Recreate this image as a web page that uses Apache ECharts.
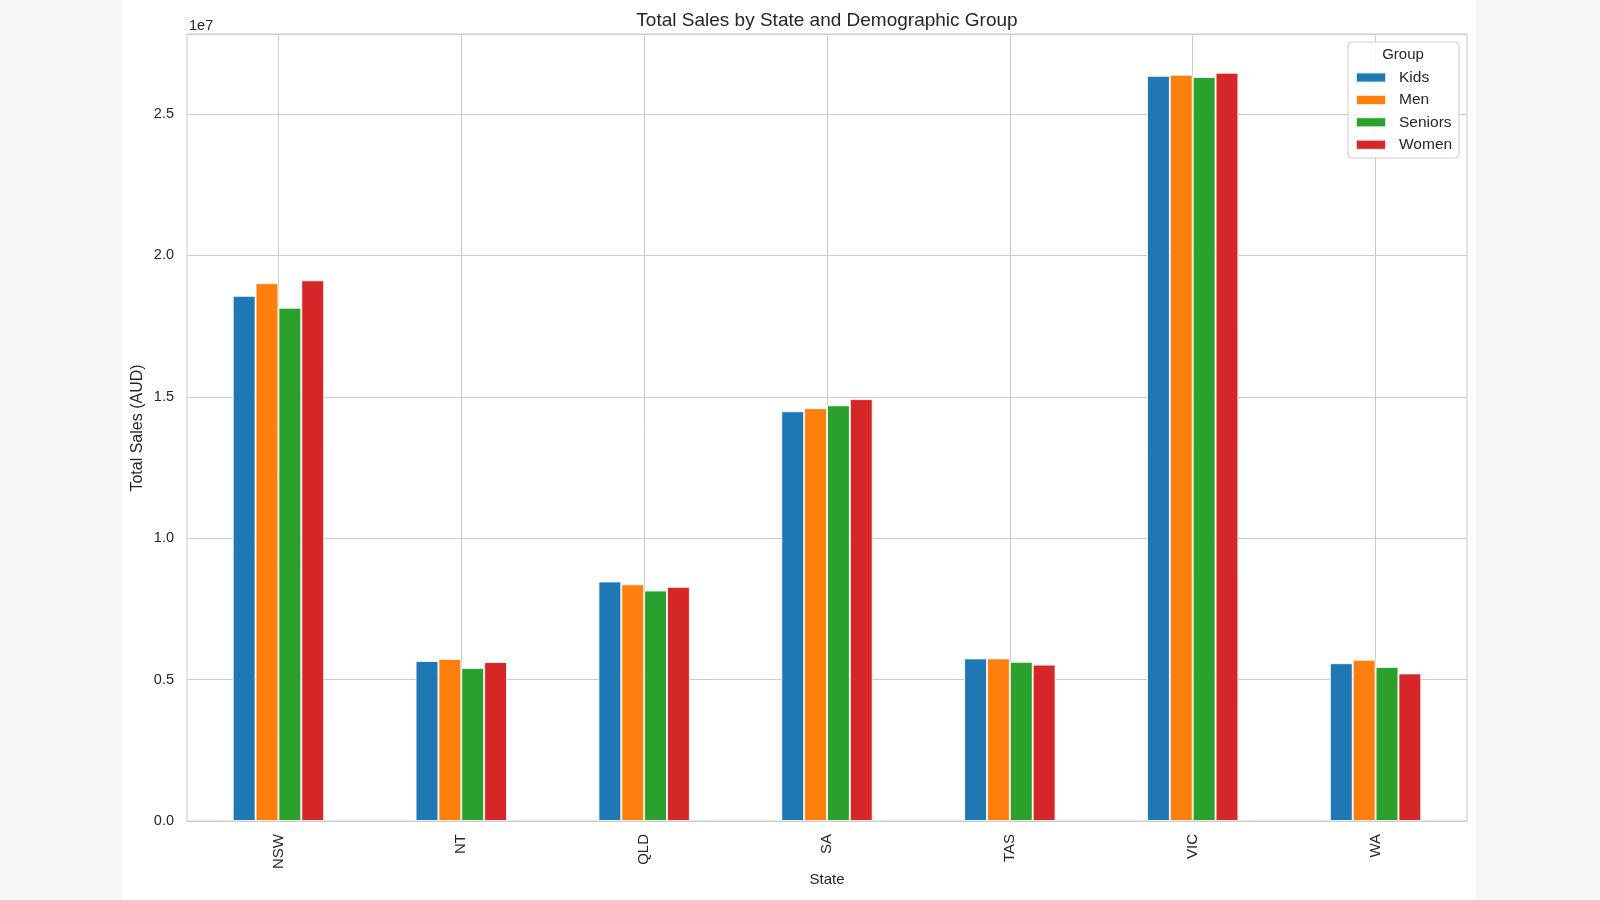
<!DOCTYPE html>
<html>
<head>
<meta charset="utf-8">
<script src="https://cdn.jsdelivr.net/npm/echarts@6/dist/echarts.min.js"></script>
<style>
html,body{margin:0;padding:0;background:#f6f6f6;}
#chart{width:1600px;height:900px;}
</style>
</head>
<body>
<div id="chart"></div>
<script>
const states = ['NSW', 'NT', 'QLD', 'SA', 'TAS', 'VIC', 'WA'];
const groups = ['Kids', 'Men', 'Seniors', 'Women'];
const kids    = [18570000, 5660000, 8470000, 14490000, 5750000, 26350000, 5580000];
const men     = [19020000, 5730000, 8370000, 14600000, 5750000, 26390000, 5700000];
const seniors = [18150000, 5410000, 8150000, 14700000, 5630000, 26310000, 5450000];
const women   = [19120000, 5620000, 8280000, 14920000, 5530000, 26460000, 5220000];
const yTicks = [0, 5000000, 10000000, 15000000, 20000000, 25000000];
const groupColors = ['#1f77b4', '#ff7f0e', '#2ca02c', '#d62728'];
const seriesValues = [kids, men, seniors, women];

const FONT = 'Liberation Sans, Arial, sans-serif';
const TXT = '#262626';

const chart = echarts.init(document.getElementById('chart'));
const option = {
  backgroundColor: '#f6f6f6',
  animation: false,
  textStyle: { fontFamily: FONT },
  title: {
    text: 'Total Sales by State and Demographic Group',
    left: 822, top: 6, textAlign: 'center',
    textStyle: { fontFamily: FONT, fontSize: 19, fontWeight: 'normal', color: TXT }
  },
  grid: {
    left: 187, top: 34, right: 133, bottom: 79,
    show: true, borderColor: '#cccccc', borderWidth: 1, backgroundColor: '#ffffff'
  },
  legend: {
    orient: 'vertical',
    left: 1355, top: 69.5,
    padding: 0,
    z: 8,
    itemWidth: 30, itemHeight: 10, itemGap: 6.4,
    icon: 'rect',
    data: groups,
    textStyle: { fontFamily: FONT, fontSize: 15.5, color: TXT, lineHeight: 16, padding: [0, 0, 0, 8] }
  },
  xAxis: {
    type: 'category',
    data: states,
    axisLine: { show: true, lineStyle: { color: '#cccccc' } },
    axisTick: { show: false, alignWithLabel: true },
    splitLine: { show: true, alignWithLabel: true, lineStyle: { color: '#cccccc', width: 1 } },
    axisLabel: { rotate: 90, margin: 13, fontSize: 15, color: TXT, fontFamily: FONT }
  },
  yAxis: {
    type: 'value',
    min: 0, max: 27830000, interval: 5000000,
    axisLine: { show: false },
    axisTick: { show: false },
    splitLine: { show: true, lineStyle: { color: '#cccccc', width: 1 } },
    axisLabel: {
      margin: 13, fontSize: 14.5, color: TXT, fontFamily: FONT, showMaxLabel: false,
      formatter: v => (yTicks.indexOf(v) >= 0 ? (v / 1e7).toFixed(1) : '')
    }
  },
  graphic: [
    { type: 'rect', left: 122, top: 0, shape: { width: 1354, height: 900 }, style: { fill: '#ffffff' }, z: -100, silent: true },
    { type: 'text', left: 189, top: 18, style: { text: '1e7', font: '14.5px ' + FONT, fill: TXT }, z: 10 },
    { type: 'text', x: 138, y: 428, rotation: Math.PI / 2,
      style: { text: 'Total Sales (AUD)', font: '16px ' + FONT, fill: TXT, textAlign: 'center', textVerticalAlign: 'middle' }, z: 10 },
    { type: 'text', x: 827, y: 880,
      style: { text: 'State', font: '15px ' + FONT, fill: TXT, textAlign: 'center', textVerticalAlign: 'middle' }, z: 10 },
    { type: 'rect', shape: { x: 1348, y: 42, width: 111, height: 116, r: 4 },
      style: { fill: 'rgba(255,255,255,0.85)', stroke: '#cccccc', lineWidth: 1 }, z: 3, silent: true },
    { type: 'text', x: 1403, y: 55, style: { text: 'Group', font: '15px ' + FONT, fill: TXT, textAlign: 'center', textVerticalAlign: 'middle' }, z: 10 }
  ],
  series: groups.map((g, i) => ({
    name: g,
    type: 'bar',
    data: seriesValues[i],
    barGap: '0%',
    barCategoryGap: '50%',
    itemStyle: { color: groupColors[i], borderColor: 'rgba(255,255,255,0.8)', borderWidth: 1 }
  }))
};
chart.setOption(option);
</script>
</body>
</html>
